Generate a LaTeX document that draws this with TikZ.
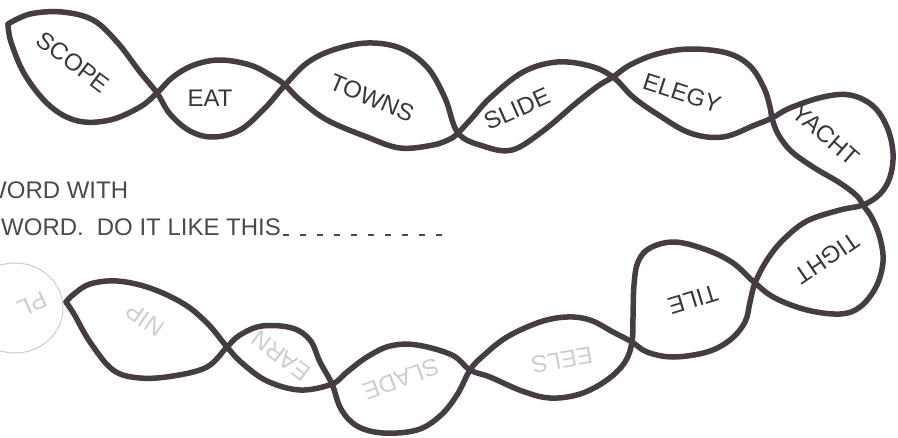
\documentclass[tikz,border=0pt]{standalone}
\usepackage{fontspec}
\setmainfont{Liberation Sans}
\usetikzlibrary{positioning}
\definecolor{ink}{HTML}{463C44}
\definecolor{wordink}{HTML}{383838}
\definecolor{hintink}{HTML}{4A4A4A}
\definecolor{ghostink}{HTML}{CDCDCD}
\newcommand{\chainfont}{\fontsize{24}{28}\selectfont}
\begin{document}
\begin{tikzpicture}[x=1pt,y=-1pt,
  strand/.style={draw=ink,line width=5.5pt,line cap=round,line join=round},
  word/.style={font=\chainfont,text=wordink,inner sep=0pt},
  ghost/.style={font=\chainfont,text=ghostink,inner sep=0pt},
  hint/.style={font=\chainfont,text=hintink,inner sep=0pt}]
\useasboundingbox (0,0) rectangle (898,437);
\coordinate (tipA) at (8,24);
\coordinate (x1) at (157,93);
\coordinate (x2) at (285,85);
\coordinate (x3) at (458,133);
\coordinate (x4) at (613,77);
\coordinate (x5) at (772,118);
\coordinate (x6) at (863,205);
\coordinate (x7) at (755,283);
\coordinate (x8) at (632,342);
\coordinate (x9) at (470,370);
\coordinate (x10) at (332,384);
\coordinate (x11) at (227,347);
\coordinate (tipB) at (66,302);

% the two twisted strands
\draw[strand] plot[smooth,tension=0.6] coordinates {(tipA) (30,14) (62,12) (93,20) (117,42) (140,72) (x1)
 (170,114) (190,131) (213,137) (240,130) (265,108) (x2) (307,63) (333,50) (367,43) (400,48) (427,67) (445,98) (x3)
 (483,146) (512,150) (543,131) (575,104) (598,86) (x4) (630,65) (657,54) (690,49) (727,53) (750,66) (764,88) (770,107) (x5)
 (778,134) (791,151) (813,167) (840,183) (857,196) (x6) (872,218) (880,238) (883,262) (876,287) (860,307) (840,314) (807,310) (775,298) (x7)
 (733,263) (707,250) (675,242) (650,248) (638,262) (634,285) (633,318) (x8) (625,362) (607,380) (580,394) (550,398) (522,391) (490,377) (x9)
 (452,355) (417,345) (390,346) (367,357) (347,372) (x10) (300,390) (267,381) (242,363) (x11)
 (208,324) (184,304) (150,288) (117,281) (90,284) (74,294) (tipB)};
\draw[strand] plot[smooth,tension=0.6] coordinates {(tipA) (11,42) (25,75) (50,106) (78,121) (110,120) (140,107) (x1)
 (173,77) (194,65) (220,60) (250,65) (272,76) (x2) (300,100) (327,120) (367,137) (400,148) (433,145) (450,139) (x3)
 (472,118) (490,98) (523,72) (557,62) (590,66) (x4) (633,97) (657,114) (690,133) (723,137) (755,125) (x5)
 (790,108) (823,97) (850,95) (873,106) (887,127) (893,153) (890,177) (880,194) (x6)
 (840,210) (807,221) (783,240) (767,260) (x7) (750,302) (745,322) (730,340) (707,352) (673,357) (647,352) (x8)
 (613,332) (590,320) (567,317) (540,322) (507,337) (483,356) (x9) (457,395) (440,416) (417,430) (383,433) (357,426) (341,409) (x10)
 (320,362) (310,340) (292,328) (262,326) (240,335) (x11) (207,367) (173,376) (140,378) (113,370) (90,342) (74,314) (tipB)};

\node[word,rotate=-37] (scope) at (73,62) {SCOPE};
\node[word] (eat) at (210,98) {EAT};
\node[word,rotate=-23] (towns) at (372,98) {TOWNS};
\node[word,rotate=24] (slide) at (517,109) {SLIDE};
\node[word,rotate=-18] (elegy) at (682,93) {ELEGY};
\node[word,rotate=-41] (yacht) at (826,135) {YACHT};
\node[word,rotate=214] (tight) at (827,258) {TIGHT};
\node[word,rotate=197] (tile) at (693,300) {TILE};
\node[ghost,rotate=190] (eels) at (562,360) {EELS};
\node[ghost,rotate=200] (slade) at (401,379) {SLADE};
\node[ghost,rotate=143] (earn) at (281,356) {EARN};
\node[ghost,rotate=145] (nip) at (145,320) {NIP};
\draw[ghostink,line width=1pt] (15,308) ellipse [x radius=48pt,y radius=45pt];
\node[ghost,rotate=204] (pl) at (32,304) {PL};

\node[hint,anchor=base west] (line1) at (-16,198) {WORD WITH};
\node[hint,anchor=base west] (line2) at (1,235) {WORD.\hspace{13pt}DO IT LIKE THIS};
\coordinate (blankend) at (450,235);
\draw[hintink,line width=2.5pt,dash pattern=on 6pt off 11pt] ([xshift=2pt]line2.base east) -- (blankend);
\end{tikzpicture}
\end{document}
